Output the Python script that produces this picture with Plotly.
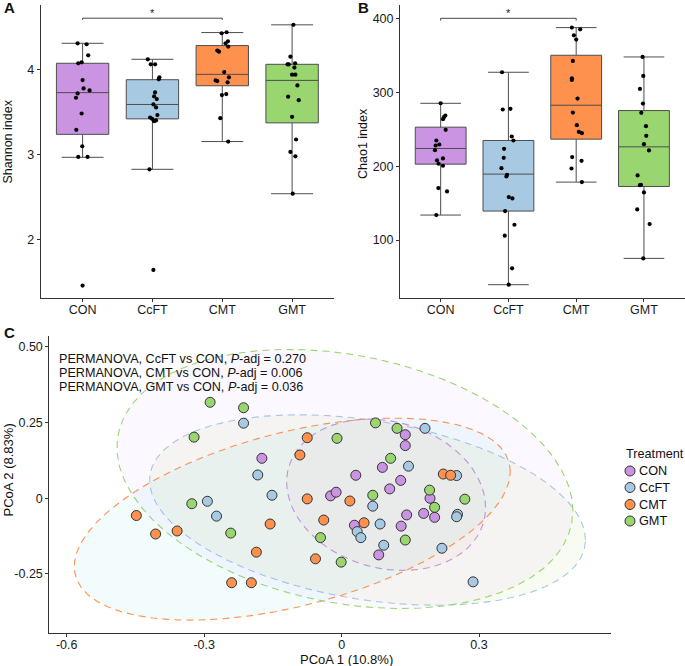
import numpy as np
import plotly.graph_objects as go

# ---------------- data ----------------
groups = ["CON", "CcFT", "CMT", "GMT"]
box_colors = ["#CB94E2", "#A7C9E2", "#FF914E", "#99D66F"]
ellipse_fill = ["#F8766D", "#7CAE00", "#00BFC4", "#C77CFF"]

# Panel A: Shannon index (box statistics + jittered samples)
shannon_q1 = [3.24, 3.422, 3.811, 3.375]
shannon_median = [3.73, 3.591, 3.945, 3.874]
shannon_q3 = [4.075, 3.882, 4.283, 4.063]
shannon_lower = [2.97, 2.829, 3.155, 2.542]
shannon_upper = [4.31, 4.122, 4.436, 4.527]

shannon_con = [4.310, 4.299, 4.169, 4.075, 4.086, 3.878, 3.780, 3.756, 3.721, 3.670, 3.485, 3.293, 3.100, 2.974, 2.974, 1.462]
shannon_con_jit = [-0.071, 0.057, 0.081, -0.062, -0.014, 0.0, 0.014, 0.100, -0.071, -0.095, -0.014, -0.090, -0.005, -0.062, 0.071, 0.0]
shannon_ccft = [4.122, 4.063, 4.063, 3.910, 3.886, 3.733, 3.686, 3.654, 3.591, 3.556, 3.466, 3.438, 3.422, 3.395, 3.403, 2.829, 1.646]
shannon_ccft_jit = [-0.066, -0.024, 0.038, 0.100, 0.090, 0.038, 0.024, 0.062, 0.014, 0.052, 0.071, -0.033, -0.005, 0.024, 0.052, -0.043, 0.014]
shannon_cmt = [4.428, 4.440, 4.334, 4.310, 4.224, 4.212, 4.271, 3.972, 3.874, 3.866, 3.910, 3.851, 3.713, 3.701, 3.430, 3.155]
shannon_cmt_jit = [-0.009, 0.062, 0.081, 0.047, -0.071, -0.047, 0.085, 0.028, -0.095, -0.071, 0.095, 0.076, 0.057, -0.005, -0.028, 0.085]
shannon_gmt = [4.527, 4.153, 4.063, 4.063, 4.075, 4.024, 3.941, 3.941, 3.815, 3.682, 3.642, 3.446, 3.179, 3.033, 2.982, 2.542]
shannon_gmt_jit = [0.019, -0.024, -0.066, -0.047, 0.043, 0.033, 0.0, 0.047, 0.076, -0.057, 0.095, 0.0, 0.057, -0.024, 0.047, 0.009]

# Panel B: Chao1 index
chao_q1 = [202.7, 139.2, 236.5, 172.5]
chao_median = [223.9, 189.2, 282.4, 226.1]
chao_q3 = [252.7, 234.7, 350.0, 275.2]
chao_lower = [133.8, 39.6, 178.4, 75.2]
chao_upper = [285.0, 327.0, 387.4, 347.7]

chao_con = [285.1, 268.5, 266.2, 263.5, 249.1, 234.7, 229.3, 227.9, 221.6, 207.7, 210.4, 203.2, 200.5, 170.3, 165.8, 133.8]
chao_con_jit = [0.0, 0.069, 0.049, 0.034, 0.074, -0.064, -0.020, -0.074, -0.084, -0.054, 0.034, -0.030, 0.034, -0.034, 0.094, -0.064]
chao_ccft = [327.0, 276.6, 277.5, 240.1, 234.7, 223.4, 211.3, 197.3, 188.3, 186.0, 158.1, 156.3, 139.2, 120.7, 105.9, 61.7, 39.6]
chao_ccft_jit = [-0.094, -0.084, 0.030, 0.049, 0.074, -0.064, -0.069, -0.103, -0.020, -0.030, 0.005, 0.059, -0.049, 0.089, -0.054, 0.054, 0.005]
chao_cmt = [387.4, 385.1, 377.0, 371.2, 342.3, 318.9, 316.7, 291.4, 272.5, 255.4, 246.4, 244.6, 212.2, 207.2, 196.8, 178.4]
chao_cmt_jit = [-0.064, 0.059, -0.034, 0.0, -0.049, -0.064, -0.064, 0.020, -0.049, 0.010, 0.039, 0.084, -0.059, 0.079, -0.069, 0.084]
chao_gmt = [347.7, 322.1, 304.5, 284.7, 272.1, 254.1, 241.0, 229.7, 221.2, 187.4, 174.8, 174.3, 164.4, 141.4, 121.6, 75.2]
chao_gmt_jit = [-0.020, -0.010, -0.059, -0.015, -0.039, 0.030, 0.034, 0.0, 0.074, -0.094, -0.044, -0.059, 0.0, -0.099, 0.084, -0.010]

# Panel C: PCoA coordinates
pcoa_con_x = [-0.174, 0.139, 0.139, 0.089, 0.031, 0.129, 0.105, -0.024, -0.012, 0.193, 0.179, 0.203, 0.142, 0.028, 0.130, 0.081]
pcoa_con_y = [0.132, 0.210, 0.174, 0.102, 0.076, 0.059, 0.031, 0.008, 0.020, 0.000, -0.050, -0.063, -0.055, -0.089, -0.092, -0.187]
pcoa_ccft_x = [-0.214, -0.183, -0.152, -0.293, -0.273, 0.182, 0.146, 0.251, 0.068, 0.253, 0.251, 0.034, 0.042, 0.084, 0.092, 0.219, 0.287]
pcoa_ccft_y = [0.248, 0.077, 0.010, -0.010, -0.059, 0.231, 0.106, 0.075, -0.026, -0.053, -0.061, -0.110, -0.130, -0.085, -0.155, -0.165, -0.276]
pcoa_cmt_x = [-0.075, -0.091, -0.075, -0.448, -0.156, -0.406, -0.359, -0.186, -0.057, -0.240, -0.197, 0.222, 0.238, 0.018, -0.039, 0.049]
pcoa_cmt_y = [0.200, 0.143, -0.002, -0.057, -0.085, -0.118, -0.108, -0.178, -0.200, -0.279, -0.279, 0.080, 0.076, -0.009, -0.072, -0.081]
pcoa_gmt_x = [-0.287, -0.214, -0.322, -0.327, -0.242, -0.010, 0.074, 0.121, 0.107, 0.068, 0.192, 0.269, 0.203, -0.046, 0.139, -0.001]
pcoa_gmt_y = [0.317, 0.299, 0.202, -0.018, -0.115, 0.198, 0.249, 0.231, 0.132, 0.010, 0.027, -0.003, -0.030, -0.130, -0.138, -0.211]

permanova_lines = [
    "PERMANOVA, CcFT vs CON, <i>P</i>-adj = 0.270",
    "PERMANOVA, CMT vs CON, <i>P</i>-adj = 0.006",
    "PERMANOVA, GMT vs CON, <i>P</i>-adj = 0.036",
]

# ---------------- helpers ----------------
FONT = "Liberation Sans, Arial, Helvetica, sans-serif"
W, H = 685, 666


def px_x(p):
    return p / W


def px_y(p):
    return 1 - p / H


def cov_trob(X, nu=5, maxit=25, tol=0.01):
    n, p = X.shape
    wt = np.ones(n)
    loc = X.mean(axis=0)
    w = np.sqrt(wt)
    Xc = X - loc
    for _ in range(maxit):
        w0 = w
        Xc = X - loc
        M = np.sqrt(w / w.sum())[:, None] * Xc
        _, d, Vt = np.linalg.svd(M, full_matrices=False)
        wX = Xc @ Vt.T @ np.diag(1.0 / d)
        Q = (wX ** 2).sum(axis=1)
        w = wt * (nu + p) / (nu + Q)
        loc = (w[:, None] * X).sum(axis=0) / w.sum()
        if np.all(np.abs(w - w0) < tol):
            break
    cov = (np.sqrt(w)[:, None] * Xc).T @ (np.sqrt(w)[:, None] * Xc) / wt.sum()
    return loc, cov


def ellipse(xs, ys, level=0.95, segments=61):
    X = np.column_stack([xs, ys])
    n = X.shape[0]
    center, shape = cov_trob(X)
    d2 = n - 1
    fq = (d2 / 2.0) * ((1 - level) ** (-2.0 / d2) - 1)
    radius = np.sqrt(2 * fq)
    R = np.linalg.cholesky(shape).T
    ang = np.arange(segments + 1) * 2 * np.pi / segments
    circ = np.column_stack([np.cos(ang), np.sin(ang)])
    e = center + radius * (circ @ R)
    return e[:, 0], e[:, 1]


def rgba(hexc, a):
    h = hexc.lstrip("#")
    return f"rgba({int(h[0:2],16)},{int(h[2:4],16)},{int(h[4:6],16)},{a})"


fig = go.Figure()

# ---------------- Panels A and B ----------------
panels = [
    ("x", "y", shannon_q1, shannon_median, shannon_q3, shannon_lower, shannon_upper,
     [(shannon_con, shannon_con_jit), (shannon_ccft, shannon_ccft_jit),
      (shannon_cmt, shannon_cmt_jit), (shannon_gmt, shannon_gmt_jit)]),
    ("x2", "y2", chao_q1, chao_median, chao_q3, chao_lower, chao_upper,
     [(chao_con, chao_con_jit), (chao_ccft, chao_ccft_jit),
      (chao_cmt, chao_cmt_jit), (chao_gmt, chao_gmt_jit)]),
]
for xa, ya, q1, med, q3, lo, up, pts in panels:
    for i, g in enumerate(groups):
        fig.add_trace(go.Box(
            x=[i], q1=[q1[i]], median=[med[i]], q3=[q3[i]],
            lowerfence=[lo[i]], upperfence=[up[i]],
            width=0.75, whiskerwidth=0.8, boxpoints=False,
            fillcolor=box_colors[i], line=dict(color="#4d4d4d", width=1),
            xaxis=xa, yaxis=ya, showlegend=False, name=g,
        ))
    for i, (vals, jit) in enumerate(pts):
        fig.add_trace(go.Scatter(
            x=[i + j for j in jit], y=vals, mode="markers",
            marker=dict(color="black", size=4.2),
            xaxis=xa, yaxis=ya, showlegend=False, hoverinfo="y",
        ))

# significance brackets
bracket_a = (4.605, 4.585, 4.665)
bracket_b = (400.0, 397.0, 407.0)
for xa, ya, (top, tip, star) in [("x", "y", bracket_a), ("x2", "y2", bracket_b)]:
    fig.add_trace(go.Scatter(
        x=[0, 0, 2, 2], y=[tip, top, top, tip], mode="lines",
        line=dict(color="#333333", width=0.9), xaxis=xa, yaxis=ya,
        showlegend=False, hoverinfo="skip",
    ))
    fig.add_annotation(x=1, y=star, xref=xa, yref=ya, text="*", showarrow=False,
                       font=dict(size=11, color="#222", family=FONT), yanchor="middle")

# ---------------- Panel C ----------------
pc = [(pcoa_con_x, pcoa_con_y), (pcoa_ccft_x, pcoa_ccft_y),
      (pcoa_cmt_x, pcoa_cmt_y), (pcoa_gmt_x, pcoa_gmt_y)]
for i, (xs, ys) in enumerate(pc):
    ex, ey = ellipse(np.array(xs), np.array(ys))
    fig.add_trace(go.Scatter(
        x=ex, y=ey, mode="lines", fill="toself",
        fillcolor=rgba(ellipse_fill[i], 0.05),
        line=dict(color=box_colors[i], width=1.1, dash="7px,5px"),
        xaxis="x3", yaxis="y3", showlegend=False, hoverinfo="skip",
    ))
for i, (xs, ys) in enumerate(pc):
    fig.add_trace(go.Scatter(
        x=xs, y=ys, mode="markers", name=groups[i],
        marker=dict(color=box_colors[i], size=10, line=dict(color="#333333", width=1)),
        xaxis="x3", yaxis="y3", showlegend=False,
    ))

# ---------------- layout ----------------
axis_common = dict(showline=True, linecolor="#333333", linewidth=1, ticks="outside",
                   ticklen=3, tickcolor="#333333", showgrid=False, zeroline=False,
                   tickfont=dict(family=FONT, size=12.5, color="#1a1a1a"))
xaxis_extra = dict(ticklabelstandoff=-3)

fig.update_layout(
    width=W, height=H, margin=dict(l=0, r=0, t=0, b=0),
    paper_bgcolor="white", plot_bgcolor="white",
    font=dict(family=FONT, color="#1a1a1a"),
    showlegend=False,
    xaxis=dict(domain=[px_x(40.7), px_x(334)], range=[-0.6, 3.6], anchor="y",
               tickvals=[0, 1, 2, 3], ticktext=groups, **axis_common, **xaxis_extra),
    yaxis=dict(domain=[px_y(297.7), px_y(5)], range=[1.32, 4.76], anchor="x",
               tickvals=[2, 3, 4], **axis_common),
    xaxis2=dict(domain=[px_x(400), px_x(684.6)], range=[-0.6, 3.6], anchor="y2",
                tickvals=[0, 1, 2, 3], ticktext=groups, **axis_common, **xaxis_extra),
    yaxis2=dict(domain=[px_y(297.7), px_y(5)], range=[22, 418], anchor="x2",
                tickvals=[100, 200, 300, 400], **axis_common),
    xaxis3=dict(domain=[px_x(49.3), px_x(611)], range=[-0.638, 0.588], anchor="y3",
                tickvals=[-0.6, -0.3, 0, 0.3], ticktext=["-0.6", "-0.3", "0", "0.3"],
                **axis_common, **xaxis_extra),
    yaxis3=dict(domain=[px_y(633.3), px_y(336)], range=[-0.446, 0.536], anchor="x3",
                tickvals=[-0.25, 0, 0.25, 0.5], ticktext=["-0.25", "0", "0.25", "0.50"], **axis_common),
)

def ann(text, x, y, size=12, xanchor="center", yanchor="middle", angle=0, bold=False):
    fig.add_annotation(
        text=f"<b>{text}</b>" if bold else text, x=px_x(x), y=px_y(y),
        xref="paper", yref="paper", showarrow=False, textangle=angle,
        xanchor=xanchor, yanchor=yanchor,
        font=dict(family=FONT, size=size, color="#111111"),
    )

# panel letters
ann("A", 1.5, 7.5, size=15, xanchor="left", bold=True)
ann("B", 356, 7.5, size=15, xanchor="left", bold=True)
ann("C", 1.5, 332, size=15, xanchor="left", bold=True)

# axis titles
ann("Shannon index", 7.5, 142, size=12.5, angle=-90)
ann("Chao1 index", 363, 144, size=12.5, angle=-90)
ann("PCoA 2 (8.83%)", 7.5, 470, size=13, angle=-90)
ann("PCoA 1 (10.8%)", 346, 659.5, size=13)

# PERMANOVA text
for k, line in enumerate(permanova_lines):
    ann(line, 56.5, 358.5 + 14 * k, size=12.6, xanchor="left")

# legend (manual)
ann("Treatment", 623.5, 454, size=12.7, xanchor="left")
leg_y = [471, 487.5, 504.5, 521]
for i, g in enumerate(groups):
    fig.add_shape(type="circle", xref="paper", yref="paper",
                  xsizemode="pixel", ysizemode="pixel",
                  xanchor=px_x(630), yanchor=px_y(leg_y[i]),
                  x0=-5, x1=5, y0=-5, y1=5,
                  fillcolor=box_colors[i], line=dict(color="#333333", width=1))
    ann(g, 636.5, leg_y[i], size=12.7, xanchor="left")

fig.write_html(
    "out.html",
    config={"displayModeBar": False},
    post_script="document.body.style.margin='0';document.body.style.padding='0';"
                "document.body.style.overflow='hidden';",
)
